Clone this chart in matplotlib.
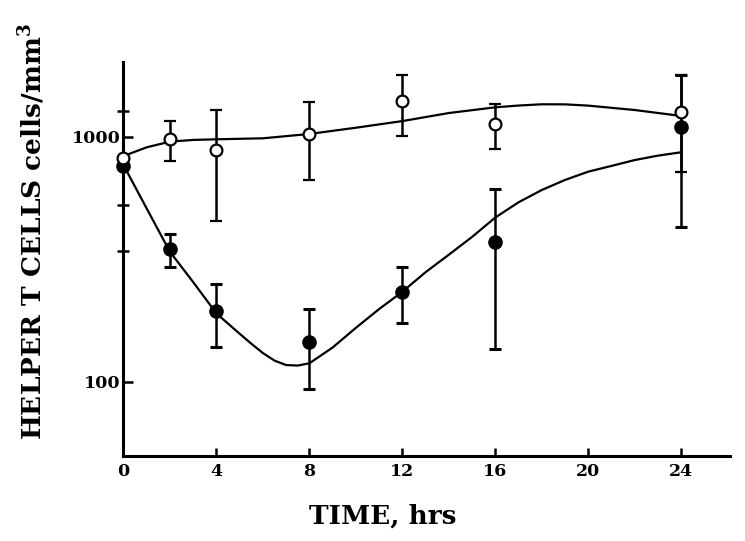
import numpy as np
import matplotlib
matplotlib.use("Agg")
import matplotlib.pyplot as plt
from matplotlib.ticker import FixedLocator, NullFormatter, NullLocator

# ---- data ----
hours = [0, 2, 4, 8, 12, 16, 24]

open_mean = [820, 979, 879, 1026, 1403, 1127, 1265]
open_lo = [820, 796, 454, 666, 1007, 891, 720]
open_hi = [820, 1159, 1285, 1390, 1786, 1360, 1786]

filled_mean = [760, 347, 194.5, 145.6, 231.7, 372.6, 1099]
filled_lo = [760, 295, 139, 93.3, 173, 135.6, 430]
filled_hi = [760, 401, 250.6, 198, 294.5, 610, 1786]

# fitted curves
open_curve_t = [0, 1, 2, 3, 4, 6, 8, 10, 12, 14, 16, 17, 18, 19, 20, 22, 24]
open_curve_v = [834, 905, 955, 970, 976, 985, 1026, 1088, 1158, 1249, 1318, 1340, 1356, 1355,
                1339, 1285, 1215]

filled_curve_t = [0, 1, 2, 3, 4, 5, 5.5, 6, 6.5, 7, 7.5, 8, 9, 10, 11, 12, 13, 14, 15, 16,
                  17, 18, 19, 20, 21, 22, 23, 24]
filled_curve_v = [766, 509, 339, 255, 190, 157, 143, 131, 122, 117, 116.5, 119, 138, 166,
                  198, 233, 280, 330, 390, 468, 540, 606, 666, 720, 760, 803, 837, 864]

x_ticks = [0, 4, 8, 12, 16, 20, 24]
y_major = [100, 1000]
y_minor = [343, 526, 1277]

# ---- figure ----
plt.rcParams['font.family'] = ['DejaVu Serif']
plt.rcParams['font.weight'] = 'bold'
plt.rcParams['mathtext.fontset'] = 'dejavuserif'

fig = plt.figure(figsize=(7.45, 5.41), dpi=100)
ax = fig.add_axes([123.5 / 745, 1 - 456 / 541, (730 - 123.5) / 745, (456 - 61.7) / 541])

ax.set_yscale('log')
ax.set_xlim(0, 26.1)
ax.set_ylim(49.8, 2023)

ax.plot(open_curve_t, open_curve_v, color='black', lw=1.6, zorder=2, clip_on=False,
        solid_joinstyle='round')
ax.plot(filled_curve_t, filled_curve_v, color='black', lw=1.6, zorder=2, clip_on=False,
        solid_joinstyle='round')

o_m = np.array(open_mean); f_m = np.array(filled_mean)
o_err = [o_m - np.array(open_lo), np.array(open_hi) - o_m]
f_err = [f_m - np.array(filled_lo), np.array(filled_hi) - f_m]

ax.errorbar(hours, filled_mean, yerr=f_err, fmt='o', color='black', ms=9.5,
            elinewidth=1.8, capsize=4.5, capthick=2.2, zorder=3, clip_on=False)
ax.errorbar(hours, open_mean, yerr=o_err, fmt='o', color='black', mfc='white', mec='black',
            mew=1.6, ms=8.5, elinewidth=1.8, capsize=4.5, capthick=2.2, zorder=4, clip_on=False)

for s in ['top', 'right']:
    ax.spines[s].set_visible(False)
for s in ['left', 'bottom']:
    ax.spines[s].set_linewidth(2.2)

ax.xaxis.set_major_locator(FixedLocator(x_ticks))
ax.set_xticklabels([str(t) for t in x_ticks])
ax.xaxis.set_minor_locator(NullLocator())
ax.yaxis.set_major_locator(FixedLocator(y_major))
ax.set_yticklabels([str(v) for v in y_major])
ax.yaxis.set_minor_locator(FixedLocator(y_minor))
ax.yaxis.set_minor_formatter(NullFormatter())

ax.tick_params(axis='x', direction='in', length=6, width=1.8, labelsize=12.5, pad=5)
ax.tick_params(axis='y', which='major', direction='in', length=7, width=1.8, labelsize=12.5, pad=2)
ax.tick_params(axis='y', which='minor', direction='inout', length=8, width=1.8)
for lab in ax.get_xticklabels() + ax.get_yticklabels():
    lab.set_fontweight('bold')

fig.text(383 / 745, 1 - 516 / 541, 'TIME, hrs', ha='center', va='center',
         fontsize=19, fontweight='bold')
fig.text(32 / 745, 1 - 232 / 541, r'HELPER T CELLS cells/mm$^{\mathbf{3}}$', ha='center', va='center',
         rotation=90, fontsize=19, fontweight='bold')

fig.savefig('out.png', dpi=100)
